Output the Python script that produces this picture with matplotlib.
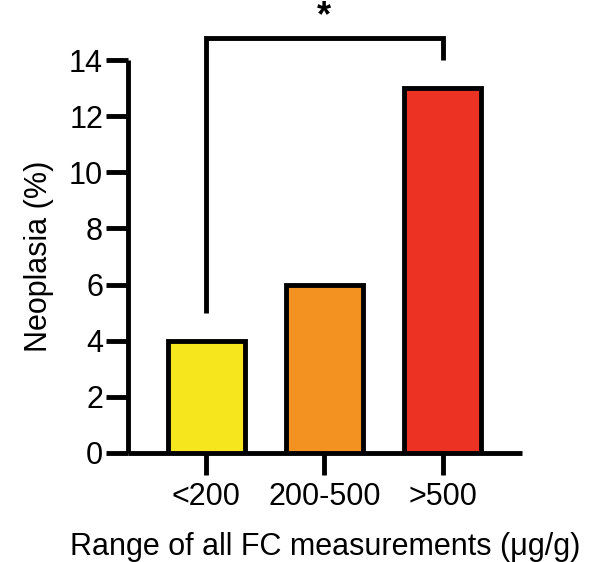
import matplotlib.pyplot as plt

plt.rcParams["font.family"] = ["Liberation Sans", "DejaVu Sans"]

categories = ["<200", "200-500", ">500"]
neoplasia_pct = [4, 6, 13]
bar_colors = ["#f5e61e", "#f39220", "#ec3323"]
# significance bracket: between first and last group
sig_pair = (0, 2)
sig_left_y, sig_right_y, sig_top_y = 5, 14, 14.8
sig_label = "*"

fig = plt.figure(figsize=(5.99, 5.62), dpi=100)
ax = fig.add_axes([128 / 599, 109 / 562, (522 - 128) / 599, (453 - 60) / 562])

x = range(len(categories))
ax.bar(x, neoplasia_pct, width=0.65, color=bar_colors, edgecolor="black", linewidth=3.5, zorder=3)

ax.set_xlim(-0.66, 2.67)
ax.set_ylim(0, 14)
ax.set_yticks(range(0, 15, 2))
ax.set_xticks(list(x), categories)

for side in ["top", "right"]:
    ax.spines[side].set_visible(False)
for side in ["left", "bottom"]:
    ax.spines[side].set_linewidth(3.5)
    ax.spines[side].set_capstyle("butt")
ax.tick_params(axis="both", width=3.5, length=16, labelsize=22, color="black")
ax.tick_params(axis="x", pad=5)
ax.tick_params(axis="y", pad=2)

ax.set_ylabel("Neoplasia (%)", fontsize=22, labelpad=11)
ax.set_xlabel("Range of all FC measurements (μg/g)", fontsize=22, labelpad=14)

x0, x1 = sig_pair
ax.plot([x0, x0, x1, x1], [sig_left_y, sig_top_y, sig_top_y, sig_right_y],
        color="black", lw=3.5, clip_on=False, solid_joinstyle="miter", solid_capstyle="butt")
ax.text((x0 + x1) / 2, sig_top_y + 0.12, sig_label, ha="center", va="bottom",
        fontsize=26, fontweight="bold", clip_on=False)

fig.savefig("out.png", dpi=100, facecolor="white")
